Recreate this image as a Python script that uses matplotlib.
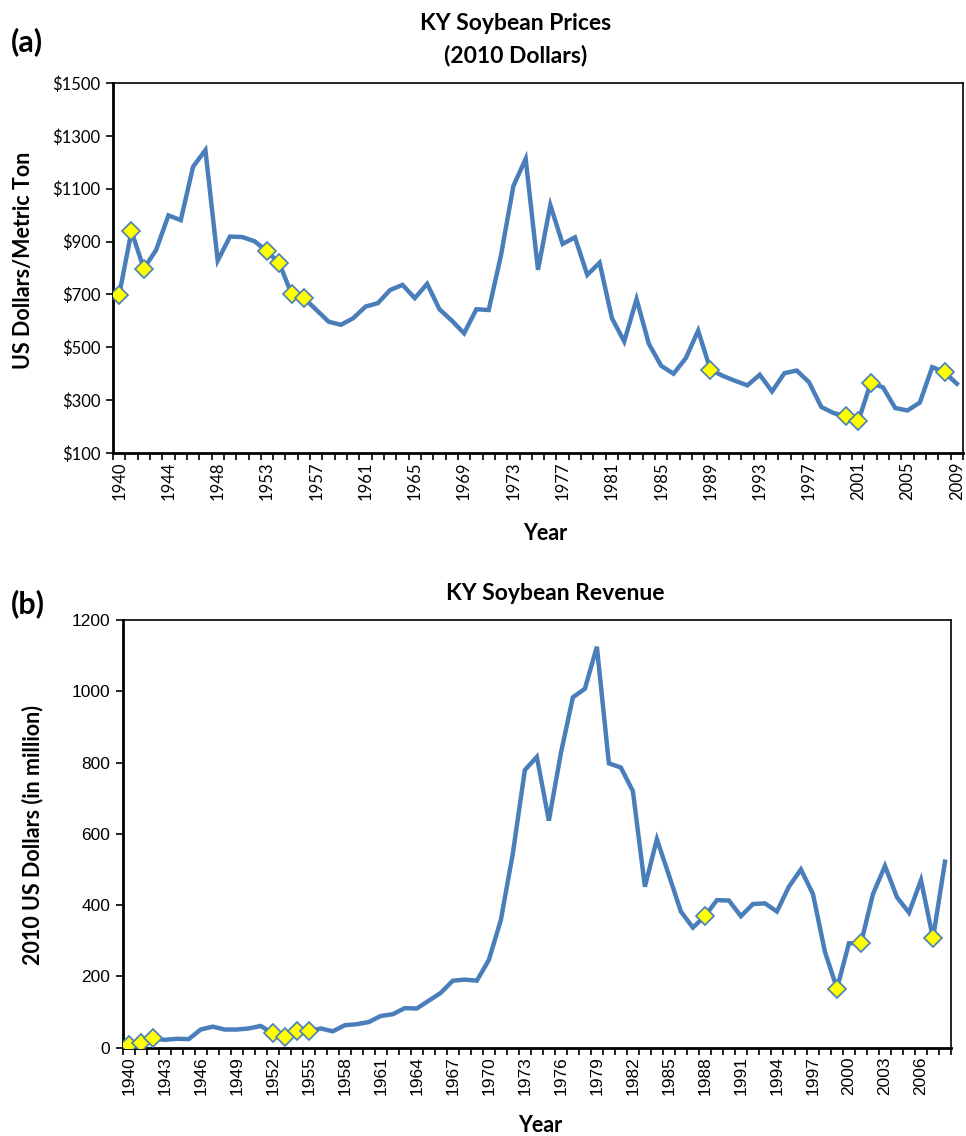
import numpy as np
import matplotlib
matplotlib.use("Agg")
import matplotlib.pyplot as plt

# ---------------- data ----------------
price_years = list(range(1940, 1949)) + list(range(1950, 2010))
price_values = [698, 939, 798, 868, 999, 981, 1183, 1246, 828, 919,
                917, 901, 863, 818, 701, 686, 642, 597, 585, 610,
                654, 667, 717, 736, 686, 740, 644, 601, 553, 644,
                641, 849, 1110, 1213, 793, 1038, 891, 916, 774, 820,
                610, 522, 682, 513, 430, 400, 459, 563, 415, 392,
                373, 356, 396, 333, 402, 412, 368, 274, 251, 239,
                220, 364, 349, 270, 261, 291, 425, 406, 362]
price_marked = [1940, 1941, 1942, 1953, 1954, 1955, 1956, 1989, 2000, 2001, 2002, 2008]

rev_years = list(range(1940, 2009))
rev_values = [8, 14, 26, 22, 25, 24, 51, 59, 51, 51,
              54, 61, 40, 31, 48, 46, 54, 46, 63, 66,
              72, 89, 94, 111, 110, 132, 154, 188, 191, 188,
              246, 358, 545, 779, 816, 637, 826, 983, 1007, 1125,
              798, 786, 720, 452, 585, 484, 382, 337, 369, 414,
              413, 369, 403, 405, 382, 452, 500, 431, 269, 166,
              293, 293, 431, 510, 422, 379, 470, 307, 522]
rev_marked = [1940, 1941, 1942, 1952, 1953, 1954, 1955, 1988, 1999, 2001, 2007]

LINE = "#4a7ebb"
FONT = "Lato"

W, H = 966, 1136
fig = plt.figure(figsize=(W / 100, H / 100), dpi=100)


def frac(x0, y0, x1, y1):
    return [x0 / W, 1 - y1 / H, (x1 - x0) / W, (y1 - y0) / H]


def draw(ax, years, values, marked, label_step, ylim, ystep, yfmt, tickfont, tickfs):
    n = len(years)
    x = np.arange(n)
    ax.plot(x, values, color=LINE, lw=3.2, solid_joinstyle="miter", zorder=2)
    mi = [years.index(y) for y in marked]
    ax.plot(mi, [values[i] for i in mi], linestyle="none", marker="D", ms=9,
            mfc="#ffff00", mec=LINE, mew=1.2, zorder=3)
    ax.set_xlim(-0.5, n - 0.5)
    ax.set_ylim(*ylim)
    ax.set_xticks(np.arange(n + 1) - 0.5)
    ax.set_xticklabels([])
    lab_idx = list(range(0, n, label_step))
    ax.set_xticks(lab_idx, [str(years[i]) for i in lab_idx], minor=True)
    ax.tick_params(axis="x", which="major", length=5, width=1.2, direction="out")
    ax.tick_params(axis="x", which="minor", length=0, pad=6, rotation=90)
    yt = np.arange(ylim[0], ylim[1] + 1, ystep)
    ax.set_yticks(yt, [yfmt(v) for v in yt])
    ax.tick_params(axis="y", length=5, width=1.2, direction="out", pad=4)
    for lab in ax.get_xticklabels(minor=True) + ax.get_yticklabels():
        lab.set_fontfamily(tickfont)
        lab.set_fontsize(tickfs)
    for s in ax.spines.values():
        s.set_linewidth(1.2)
        s.set_color("black")
    ax.spines["left"].set_linewidth(2)
    ax.spines["bottom"].set_linewidth(2)


ax1 = fig.add_axes(frac(113, 83, 963, 453))
draw(ax1, price_years, price_values, price_marked, 4, (100, 1500), 200,
     lambda v: f"${v}", FONT, 12)

ax2 = fig.add_axes(frac(122.7, 620, 951, 1047.7))
draw(ax2, rev_years, rev_values, rev_marked, 3, (0, 1200), 200,
     lambda v: f"{v}", "Liberation Sans", 12.5)


def ftext(x, y, s, **kw):
    fig.text(x / W, 1 - y / H, s, fontfamily=FONT, fontweight="bold", **kw)


ftext(11, 42, "(a)", fontsize=22, ha="left", va="center")
ftext(516, 24, "KY Soybean Prices", fontsize=16.5, ha="center", va="center")
ftext(516, 56, "(2010 Dollars)", fontsize=16.5, ha="center", va="center")
ftext(24, 260, "US Dollars/Metric Ton", fontsize=15.5, ha="center", va="center", rotation=90)
ftext(545, 533, "Year", fontsize=15.5, ha="center", va="center")

ftext(11, 604, "(b)", fontsize=22, ha="left", va="center")
ftext(555, 593, "KY Soybean Revenue", fontsize=16.5, ha="center", va="center")
ftext(33, 835, "2010 US Dollars (in million)", fontsize=15.5, ha="center", va="center", rotation=90)
ftext(540, 1125, "Year", fontsize=15.5, ha="center", va="center")

fig.savefig("out.png", dpi=100, facecolor="white")
